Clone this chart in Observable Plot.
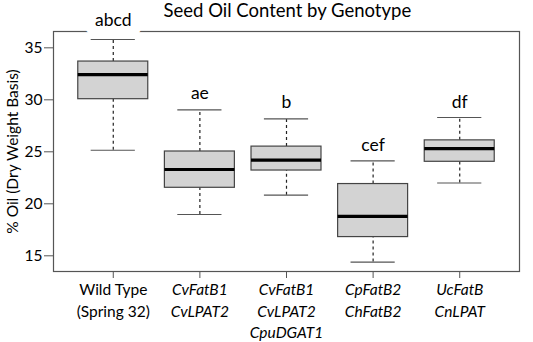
<!DOCTYPE html>
<html><head><meta charset="utf-8">
<script src="https://cdn.jsdelivr.net/npm/d3@7"></script>
<script src="https://cdn.jsdelivr.net/npm/@observablehq/plot@0.6"></script>
<style>body{margin:0;background:#fff;font-family:Lato,"Open Sans",sans-serif}</style>
</head><body><div id="chart"></div>
<script>
const genotypes = ["Wild Type\n(Spring 32)", "CvFatB1\nCvLPAT2", "CvFatB1\nCvLPAT2\nCpuDGAT1", "CpFatB2\nChFatB2", "UcFatB\nCnLPAT"];
const italicName = [false, true, true, true, true];
const lowerWhisker = [25.15, 18.97, 20.83, 14.4, 22.0];
const q1 = [30.06, 21.54, 23.2, 16.8, 24.04];
const median = [32.43, 23.3, 24.2, 18.8, 25.3];
const q3 = [33.68, 25.03, 25.5, 21.9, 26.1];
const upperWhisker = [35.8, 29.04, 28.17, 24.13, 28.3];
const letters = ["abcd", "ae", "b", "cef", "df"];
const letterY = [37.65, 30.6, 29.8, 25.6, 29.8];
const yTicks = [15, 20, 25, 30, 35];
const xTicks = [1, 2, 3, 4, 5];

const yDomain = [13.49, 36.57];
const data = genotypes.map((g, i) => ({
  i: i + 1, g, italic: italicName[i], lo: lowerWhisker[i], q1: q1[i], med: median[i],
  q3: q3[i], hi: upperWhisker[i], letter: letters[i], ly: letterY[i]
}));
const half = 0.404, cap = 0.255;
const ff = "Lato, 'Open Sans', sans-serif";

const chart = Plot.plot({
  width: 533, height: 342,
  marginLeft: 53, marginRight: 14, marginTop: 31, marginBottom: 71,
  style: {fontFamily: ff, fontSize: "15px", color: "#111", background: "#fff"},
  x: {domain: [0.31, 5.69], label: null},
  y: {domain: yDomain, label: null},
  marks: [
    Plot.frame({stroke: "#555", strokeWidth: 1.2}),
    Plot.axisY({ticks: yTicks, tickSize: 9, tickPadding: 2, stroke: "#555", fontSize: 15.5, fill: "#000", label: null}),
    Plot.axisX({ticks: xTicks, tickSize: 7, tickFormat: () => "", stroke: "#555", label: null}),
    Plot.ruleX(data, {x: "i", y1: "q3", y2: "hi", stroke: "#222", strokeDasharray: "3,3", strokeWidth: 1.2}),
    Plot.ruleX(data, {x: "i", y1: "lo", y2: "q1", stroke: "#222", strokeDasharray: "3,3", strokeWidth: 1.2}),
    Plot.ruleY(data, {y: "hi", x1: d => d.i - cap, x2: d => d.i + cap, stroke: "#555", strokeWidth: 1.2}),
    Plot.ruleY(data, {y: "lo", x1: d => d.i - cap, x2: d => d.i + cap, stroke: "#555", strokeWidth: 1.2}),
    Plot.rect(data, {x1: d => d.i - half, x2: d => d.i + half, y1: "q1", y2: "q3", fill: "#d3d3d3", stroke: "#444", strokeWidth: 1.2}),
    Plot.ruleY(data, {y: "med", x1: d => d.i - half, x2: d => d.i + half, stroke: "#000", strokeWidth: 3.2}),
    Plot.text(data.filter(d => d.ly > yDomain[1]), {x: "i", y: "ly", text: "letter", fontSize: 17.5, fontWeight: 400, fill: "white", stroke: "white", strokeWidth: 22}),
    Plot.text(data, {x: "i", y: "ly", text: "letter", fontSize: 17.5, fontWeight: 400, fill: "#000"}),
    Plot.text(data.filter(d => !d.italic), {x: "i", text: "g", frameAnchor: "bottom", lineAnchor: "top", dy: 9, fontSize: 15.5, lineHeight: 1.36, fill: "#000"}),
    Plot.text(data.filter(d => d.italic), {x: "i", text: "g", frameAnchor: "bottom", lineAnchor: "top", dy: 9, fontSize: 15.5, lineHeight: 1.36, fontStyle: "italic", fill: "#000"}),
    Plot.text(["Seed Oil Content by Genotype"], {x: () => 3.01, frameAnchor: "top", lineAnchor: "middle", dy: -20, fontSize: 18.5, fill: "#000"}),
    Plot.text(["% Oil (Dry Weight Basis)"], {frameAnchor: "left", textAnchor: "middle", dx: -40, rotate: -90, fontSize: 15.5, fill: "#000"})
  ]
});
document.getElementById("chart").appendChild(chart);
</script>
</body></html>
